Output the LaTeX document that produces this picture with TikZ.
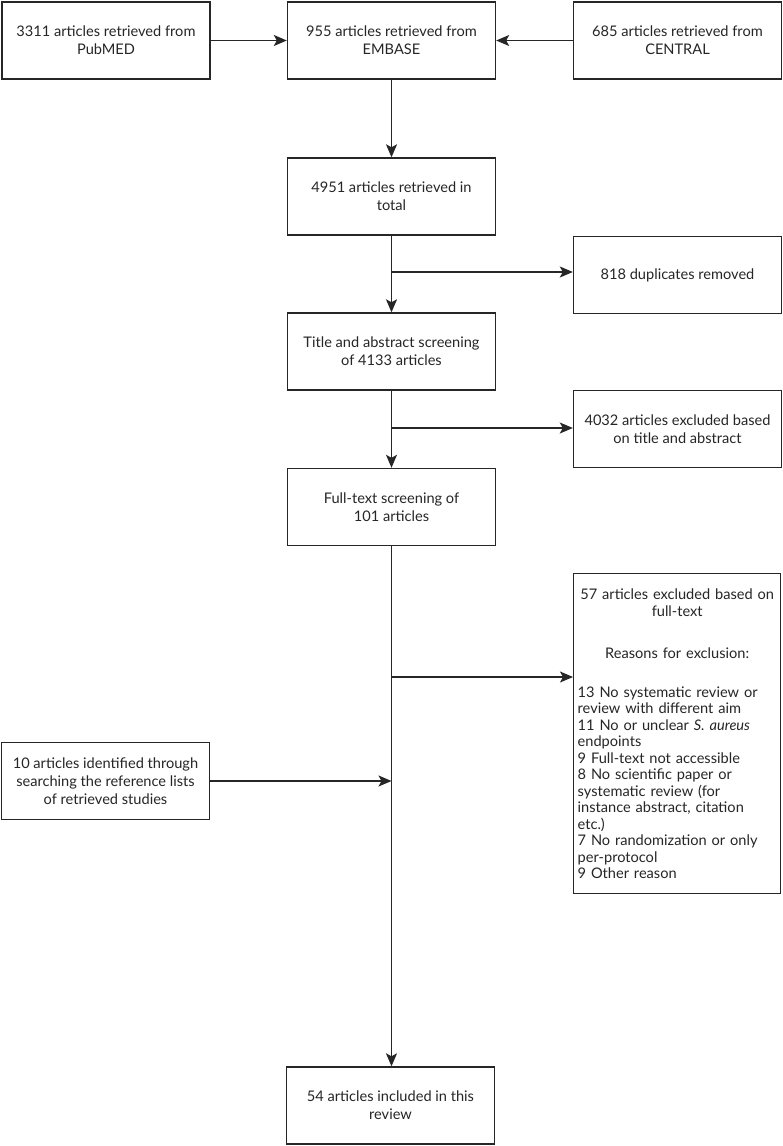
\documentclass[tikz,border=0pt]{standalone}
\usepackage{fontspec}
\setmainfont{Lato}
\usetikzlibrary{arrows.meta}
\begin{document}
\begin{tikzpicture}[x=1pt,y=-1pt,
  box/.style={draw=black!85, line width=1.4pt, fill=white, align=center, inner sep=4pt,
    font=\fontsize{14.6}{17.8}\selectfont, text=black!85},
  stdbox/.style={box, minimum width=208pt, minimum height=77pt},
  arr/.style={draw=black!85, line width=1.4pt, -{Stealth[length=13pt,width=11pt,inset=3pt]}}]
\useasboundingbox (0,0) rectangle (783,1146);
\node[stdbox] (pub) at (106,40.5) {3311 articles retrieved from\\PubMED};
\node[stdbox] (emb) at (391.5,40.5) {955 articles retrieved from\\EMBASE};
\node[stdbox] (cen) at (677.5,40.5) {685 articles retrieved from\\CENTRAL};
\node[stdbox] (tot) at (391.5,196.5) {4951 articles retrieved in\\total};
\node[stdbox] (dup) at (677.5,275) {818 duplicates removed};
\node[stdbox] (tit) at (391.5,351.5) {Title and abstract screening\\of 4133 articles};
\node[stdbox] (exa) at (677.5,429) {4032 articles excluded based\\on title and abstract};
\node[stdbox] (ful) at (391.5,507) {Full-text screening of\\101 articles};
\node[box, anchor=north west, text width=199pt, minimum height=320pt, align=left, inner xsep=4pt, inner ysep=8pt,
  font=\fontsize{14.6}{16.5}\selectfont] (ex2) at (573,573)
 {{\centering 57 articles excluded based on\\full-text\\[25.5pt]Reasons for exclusion:\par}\vspace{22.5pt}%
  13 No systematic review or\\review with different aim\\11 No or unclear \textit{S.~aureus}\\endpoints\\9 Full-text not accessible\\8 No scientific paper or\\systematic review (for\\instance abstract, citation\\etc.)\\7 No randomization or only\\per-protocol\\9 Other reason};
\node[stdbox] (lft) at (105.5,781) {10 articles identified through\\searching the reference lists\\of retrieved studies};
\node[stdbox] (inc) at (390.5,1105.5) {54 articles included in this\\review};
\coordinate (j1) at (391.5,272);
\coordinate (j2) at (391.5,428);
\coordinate (j3) at (391.5,677);
\draw[arr] (pub) -- (emb);
\draw[arr] (cen) -- (emb);
\draw[arr] (emb) -- (tot);
\draw[arr] (tot) -- (tit);
\draw[arr] (j1) -- (j1 -| dup.west);
\draw[arr] (tit) -- (ful);
\draw[arr] (j2) -- (j2 -| exa.west);
\draw[arr] (ful.south) -- (ful.south |- inc.north);
\draw[arr] (j3) -- (j3 -| ex2.west);
\draw[arr] (lft.east) -- (lft.east -| ful.south);
\end{tikzpicture}
\end{document}
